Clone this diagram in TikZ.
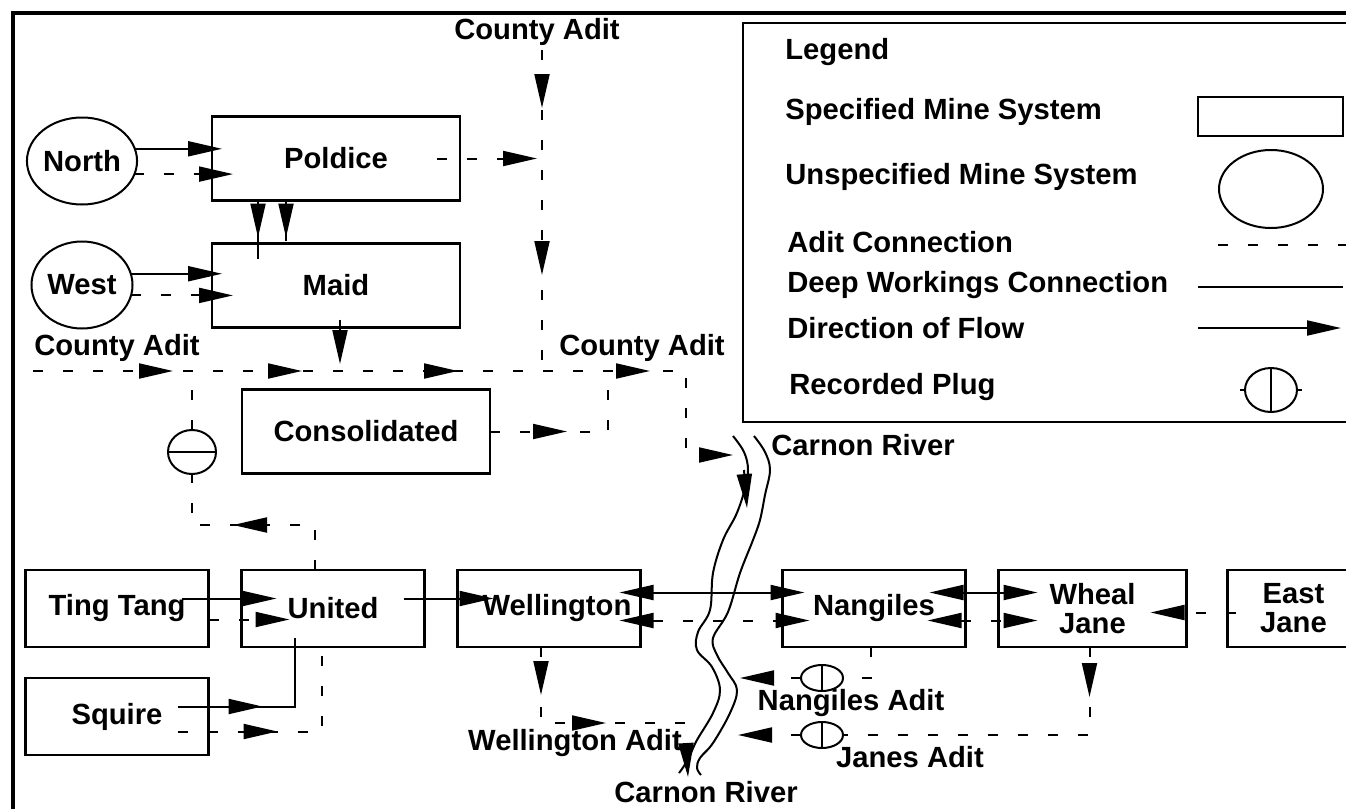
\documentclass[tikz,border=0pt]{standalone}
\usepackage{fontspec}
\setmainfont{Liberation Sans}
\usetikzlibrary{arrows.meta,positioning,calc,shapes.geometric,decorations.markings}
\newcommand{\mapfont}{\fontsize{14.6pt}{14.5pt}\selectfont\bfseries}
\tikzset{
    minebox/.style={
        rectangle, draw, line width=1.3pt, align=center,
        inner sep=2pt, outer sep=0pt, minimum width=91.5pt, minimum height=38.5pt,
        font=\mapfont
    },
    widebox/.style={minebox, minimum width=124pt, minimum height=42pt},
    minecirc/.style={
        ellipse, draw, line width=1pt, inner sep=0pt, outer sep=0pt,
        minimum width=50.5pt, minimum height=43.5pt, font=\mapfont
    },
    plug/.style={ellipse, draw, fill=white, line width=1pt, inner sep=0pt, outer sep=0pt},
    deep/.style={line width=1pt},
    adit/.style={line width=1pt, dash pattern=on 5pt off 10pt},
    flowtip/.tip={Triangle[length=17pt, width=7.5pt]},
    tipat/.style={postaction={decorate, decoration={markings,
        mark=at position #1 with {\arrow{flowtip}}}}},
    maplbl/.style={font=\mapfont, inner sep=0pt},
    leglbl/.style={maplbl, anchor=west}
}
\begin{document}
\begin{tikzpicture}[x=0.5pt, y=-0.5pt, node distance=16.5pt]
    \useasboundingbox (0,0) rectangle (1346,809);
    \fill[white] (0,0) rectangle (1346,809);
    \draw[line width=1.6pt] (13,809) -- (13,13) -- (1346,13);
    % upper mine systems
    \node[minecirc] (north) at (82,161) {North};
    \node[minecirc] (west) at (82,285) {West};
    \node[widebox] (poldice) at (336,158.5) {Poldice};
    \node[widebox, below=21.5pt of poldice] (maid) {Maid};
    \node[widebox] (consol) at (366,431.5) {Consolidated};
    % lower row of mine systems
    \node[minebox] (tingtang) at (117,608.5) {Ting Tang};
    \node[minebox, right=of tingtang] (united) {United};
    \node[minebox, right=of united] (welling) {\hspace*{8pt}Wellington};
    \node[minebox, right=71pt of welling] (nangiles) {Nangiles};
    \node[minebox, minimum width=94pt, right=of nangiles] (whealjane) {Wheal\\Jane};
    \node[minebox, minimum width=66pt, right=20.5pt of whealjane] (eastjane) {East\\Jane};
    \node[minebox, below=15.5pt of tingtang] (squire) {Squire};
    % adit and river labels
    \node[maplbl] (catoplbl) at (537,32) {County Adit};
    \node[maplbl] (caleftlbl) at (117,348) {County Adit};
    \node[maplbl] (carightlbl) at (642,348) {County Adit};
    \node[maplbl] (rivtoplbl) at (863,445) {Carnon River};
    \node[maplbl] (rivbotlbl) at (706,792) {Carnon River};
    \node[maplbl] (welladitlbl) at (575,743) {Wellington Adit};
    \node[maplbl] (nanaditlbl) at (851,703) {Nangiles Adit};
    \node[maplbl] (janaditlbl) at (910,757) {Janes Adit};
    % recorded plugs
    \node[plug, minimum width=24pt, minimum height=22pt] (plugl) at (192,452) {};
    \node[plug, minimum width=21pt, minimum height=13pt] (plugn) at (822,678) {};
    \node[plug, minimum width=21pt, minimum height=13pt] (plugj) at (822,735) {};
    \draw[deep] (plugl.west) -- (plugl.east);
    \draw[deep] (plugn.north) -- (plugn.south);
    \draw[deep] (plugj.north) -- (plugj.south);
    % junctions and free ends
    \coordinate (catop) at (542,50);
    \coordinate (cajoin) at (542,366);
    \coordinate (caleft) at (33,371);
    \coordinate (caright) at (686,371);
    \coordinate (conjoin) at (608,371);
    \coordinate (rivin) at (733,455);
    \coordinate (ujog) at (315,525);
    \coordinate (welladit) at (690,723);
    \coordinate (nanout) at (740,678);
    \coordinate (janout) at (738,735);
    \coordinate (maidout) at ($(maid.south)+(4,0)$);
    % North and West into Poldice and Maid
    \draw[deep, -{flowtip}] (north.13) -- ($(poldice.west |- north.13)+(10,0)$);
    \draw[adit, -{flowtip}] (north.346) -- ($(poldice.west |- north.346)+(21,0)$);
    \draw[deep, -{flowtip}] (west.13) -- ($(maid.west |- west.13)+(10,0)$);
    \draw[adit, -{flowtip}] (west.348) -- ($(maid.west |- west.348)+(21,0)$);
    \draw[deep, tipat=18.5pt] ($(poldice.south west)+(46,0)$) -- ($(maid.north west)+(46,15)$);
    \draw[adit, tipat=18.5pt] ($(poldice.south west)+(74,0)$) -- ($(maid.north west)+(74,15)$);
    % County Adit
    \draw[adit, -{flowtip}, shorten >=2.5pt] ($(poldice.east)+(-23,0)$) -- (poldice.east -| cajoin);
    \draw[adit, tipat=29pt, tipat=112.5pt] (catop) -- (cajoin);
    \draw[adit, tipat=70pt, tipat=134.5pt, tipat=212.5pt, tipat=308.5pt, -{flowtip}]
        (caleft) -- (caright) |- (rivin);
    \draw[deep, -{flowtip}] ($(maidout)+(0,-8)$) -- ($(maidout |- caleft)+(0,-7)$);
    \draw[adit, tipat=38.5pt] (consol.east) -| (conjoin);
    \draw[adit, tipat=63.5pt] (united.north -| ujog) -- (ujog) -| (plugl.south);
    \draw[adit] (plugl.north) -- (plugl |- caleft);
    % lower row
    \draw[deep, -{flowtip}] ($(tingtang.east)+(-27,-10)$) -- ($(united.west)+(35,-10)$);
    \draw[adit, -{flowtip}] ($(tingtang.east)+(0,11)$) -- ($(united.west)+(48,11)$);
    \draw[deep, -{flowtip}] ($(united.east)+(-21,-10)$) -- ($(welling.west)+(36,-10)$);
    \draw[deep, tipat=42.5pt] ($(squire.east)+(-31,-10)$) -| ($(united.south)+(-38,-9)$);
    \draw[adit, tipat=50pt] ($(squire.east)+(-31,15)$) -| ($(united.south)+(-11,-7)$);
    \draw[deep, {flowtip}-{flowtip}] ($(welling.east)+(-21,-16)$) -- ($(nangiles.west)+(22,-16)$);
    \draw[adit, {flowtip}-{flowtip}] ($(welling.east)+(-21,12)$) -- ($(nangiles.west)+(27,12)$);
    \draw[deep, {flowtip}-{flowtip}] ($(nangiles.east)+(-36,-16)$) -- ($(whealjane.west)+(39,-16)$);
    \draw[adit, {flowtip}-{flowtip}] ($(nangiles.east)+(-38,12)$) -- ($(whealjane.west)+(39,12)$);
    \draw[adit, -{flowtip}] ($(eastjane.west)+(8,4)$) -- ($(whealjane.east)+(-36,4)$);
    % adits to the river
    \draw[adit, tipat=24pt, tipat=70.5pt] ($(welling.south)+(-8,0)$) |- (welladit);
    \draw[adit] ($(nangiles.south)+(-3,0)$) |- (plugn.east);
    \draw[adit, -{flowtip}] (plugn.west) -- (nanout);
    \draw[adit, tipat=25pt] ($(whealjane.south)+(-3,0)$) |- (plugj.east);
    \draw[adit, -{flowtip}] (plugj.west) -- (janout);
    % Carnon River
    \draw[deep] plot[smooth, tension=0.6] coordinates {(733,436) (744,452) (748,470) (744,492)
        (736,515) (723,540) (713,573) (710,610) (698,632) (697,650) (712,667) (720,690)
        (713,713) (697,740) (690,755) (684,766) (679,773)};
    \draw[deep] plot[smooth, tension=0.6] coordinates {(754,436) (765,452) (770,470) (765,495)
        (760,520) (753,540) (740,573) (728,612) (713,638) (717,655) (728,673) (737,690)
        (730,713) (713,743) (700,758) (697,768) (701,775)};
    \coordinate (rivflowa) at (744,470);
    \coordinate (rivflowb) at (747,508);
    \coordinate (rivflowc) at (686,744);
    \coordinate (rivflowd) at (688,777);
    \draw[deep, -{flowtip}] (rivflowa) -- (rivflowb);
    \draw[deep, -{flowtip}] (rivflowc) -- (rivflowd);
    % legend
    \draw[line width=1.2pt] (743,23) rectangle (1352,422);
    \node[leglbl] (leghead) at (785,52) {Legend};
    \node[leglbl] (legspec) at (785,112) {Specified Mine System};
    \node[leglbl] (legunspec) at (785,177) {Unspecified Mine System};
    \node[leglbl] (legadit) at (787,242) {Adit Connection};
    \node[leglbl] (legdeep) at (787,285) {Deep Workings Connection};
    \node[leglbl] (legflow) at (787,328) {Direction of Flow};
    \node[leglbl] (legplugl) at (789,387) {Recorded Plug};
    \node[minebox, minimum width=72.5pt, minimum height=19.5pt] (legbox) at (1270.5,116.5) {};
    \node[minecirc, minimum width=52pt, minimum height=39pt] (legcirc) at (1271,189) {};
    \coordinate (legaditA) at (1218,245);
    \coordinate (legaditB) at (1346,245);
    \coordinate (legdeepA) at (1198,287);
    \coordinate (legdeepB) at (1343,287);
    \coordinate (legflowA) at (1198,328);
    \coordinate (legflowB) at (1341,328);
    \draw[adit] (legaditA) -- (legaditB);
    \draw[deep] (legdeepA) -- (legdeepB);
    \draw[deep, -{flowtip}] (legflowA) -- (legflowB);
    \node[plug, minimum width=26pt, minimum height=22pt] (legplug) at (1271,390) {};
    \draw[deep] (legplug.north) -- (legplug.south);
    \draw[deep] (legplug.west) -- ++(-5,0);
    \draw[deep] (legplug.east) -- ++(5,0);
\end{tikzpicture}
\end{document}
